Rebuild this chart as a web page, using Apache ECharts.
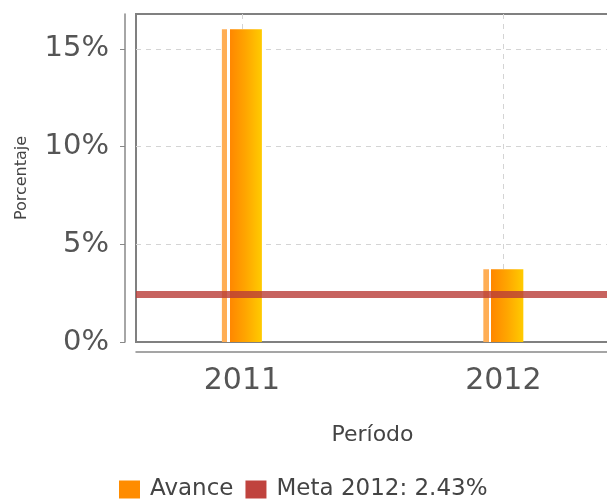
<!DOCTYPE html>
<html>
<head>
<meta charset="utf-8">
<script src="https://cdn.jsdelivr.net/npm/echarts@6/dist/echarts.min.js"></script>
<style>
  html, body { margin: 0; padding: 0; background: #fff; }
  #chart { width: 607px; height: 499px; }
</style>
</head>
<body>
<div id="chart"></div>
<script>
// datos del gráfico
const periodos = ['2011', '2012']
const avance = [16.0, 3.72]
const meta = 2.43
const yTicks = [0, 5, 10, 15]

// el eje x es numérico para poder dejar el recorte del área de trazado igual que la imagen
const xMin = -0.405
const xMax = 1.626

const chart = echarts.init(document.getElementById('chart'))

// degradado de la barra: franja clara, hueco blanco, cuerpo naranja→amarillo
const barColor = {
  type: 'linear', x: 0, y: 0, x2: 1, y2: 0,
  colorStops: [
    { offset: 0, color: '#FFAE55' },
    { offset: 0.14, color: '#FFAE55' },
    { offset: 0.14, color: '#FFFFFF' },
    { offset: 0.2, color: '#FFFFFF' },
    { offset: 0.2, color: '#FF8700' },
    { offset: 0.6, color: '#FFA600' },
    { offset: 1, color: '#FFCB00' }
  ]
}

chart.setOption({
  animation: false,
  textStyle: { fontFamily: 'DejaVu Sans' },
  grid: {
    left: 136,
    top: 14,
    right: -60,
    bottom: 157,
    show: true,
    borderColor: '#808080',
    borderWidth: 2,
    outerBoundsMode: 'none'
  },
  legend: {
    bottom: -7,
    left: 114,
    icon: 'rect',
    itemWidth: 21,
    itemHeight: 18,
    itemGap: 12,
    data: [
      { name: 'Avance', itemStyle: { color: '#FF8C00' } },
      { name: 'Meta 2012: 2.43%', itemStyle: { color: '#C0433E' } }
    ],
    textStyle: { fontSize: 23, color: '#444', fontFamily: 'DejaVu Sans', padding: [0, 0, 0, 5] }
  },
  xAxis: {
    type: 'value',
    min: xMin,
    max: xMax,
    offset: 10,
    name: 'Período',
    nameLocation: 'middle',
    nameGap: 72,
    nameTextStyle: { fontSize: 22, color: '#444', padding: [0, 58, 0, 0] },
    axisLine: { show: true, onZero: false, lineStyle: { color: '#888', width: 1.5 } },
    axisTick: { show: false, customValues: [0, 1] },
    axisLabel: {
      customValues: [0, 1],
      margin: 14,
      fontSize: 30,
      color: '#555',
      formatter: (v) => periodos[Math.round(v)]
    },
    splitLine: { show: true, lineStyle: { color: '#d4d4d4', type: [5, 5] } }
  },
  yAxis: {
    type: 'value',
    min: 0,
    max: 16.78,
    offset: 11,
    name: 'Porcentaje',
    nameLocation: 'middle',
    nameGap: 95,
    nameTextStyle: { fontSize: 16, color: '#444' },
    axisLine: { show: true, onZero: false, lineStyle: { color: '#888', width: 1.5 } },
    axisTick: { show: true, inside: false, length: 5, customValues: yTicks, lineStyle: { color: '#888' } },
    axisLabel: {
      customValues: yTicks,
      margin: 16,
      fontSize: 29,
      color: '#555',
      formatter: (v) => v + '%'
    },
    splitLine: { show: true, showMinLine: false, lineStyle: { color: '#d4d4d4', type: [5, 5] } }
  },
  series: [
    {
      name: 'Avance',
      type: 'bar',
      barWidth: 40,
      data: avance.map((v, i) => [i, v]),
      itemStyle: { color: barColor },
      z: 2
    },
    {
      name: 'Meta 2012: 2.43%',
      type: 'line',
      symbol: 'none',
      data: [[xMin, meta], [xMax, meta]],
      lineStyle: { color: 'rgba(185,60,55,0.8)', width: 7 },
      itemStyle: { color: '#C0433E' },
      z: 3
    }
  ]
})
</script>
</body>
</html>
